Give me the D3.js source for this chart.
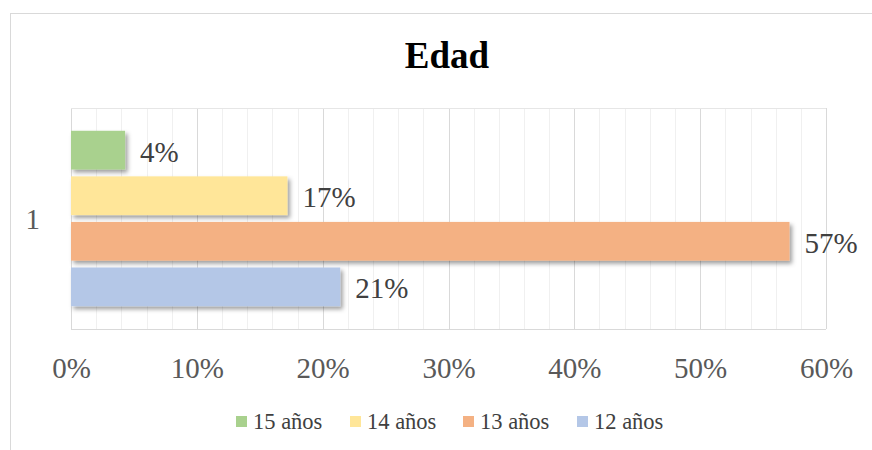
<!DOCTYPE html>
<html>
<head>
<meta charset="utf-8">
<script src="https://cdn.jsdelivr.net/npm/d3@7"></script>
<style>
  body { margin: 0; background: #fff; }
  svg { display: block; }
</style>
</head>
<body>
<div id="chart"></div>
<script>
// --- Data ---
const categories = ["1"];
const seriesNames = ["15 años", "14 años", "13 años", "12 años"];
const seriesValues = [0.043, 0.172, 0.571, 0.214];
const seriesLabels = ["4%", "17%", "57%", "21%"];
const seriesColors = ["#a9d18e", "#ffe699", "#f4b183", "#b4c7e7"];
const xTicks = [0, 0.1, 0.2, 0.3, 0.4, 0.5, 0.6];

const width = 872, height = 450;
const plot = { left: 71, right: 826, top: 108, bottom: 329 };
const FONT = "'Liberation Serif', 'Times New Roman', serif";

const svg = d3.select("#chart").append("svg")
    .attr("width", width)
    .attr("height", height);

// Drop shadow like the office chart style
const defs = svg.append("defs");
defs.append("filter")
    .attr("id", "shadow")
    .attr("x", "-10%").attr("y", "-20%")
    .attr("width", "130%").attr("height", "160%")
  .append("feDropShadow")
    .attr("dx", 2.5).attr("dy", 3)
    .attr("stdDeviation", 2)
    .attr("flood-color", "#000")
    .attr("flood-opacity", 0.38);

// Chart area border
svg.append("rect")
    .attr("x", 10.5).attr("y", 13.5)
    .attr("width", 900).attr("height", 500)
    .attr("fill", "#fff")
    .attr("stroke", "#d9d9d9");

// --- Scales ---
const x = d3.scaleLinear().domain([0, 0.6]).range([plot.left, plot.right]);
const yCat = d3.scaleBand().domain(categories).range([plot.top, plot.bottom]);
const y = d3.scaleBand().domain(seriesNames)
    .range([0, yCat.bandwidth()])
    .paddingInner(0.15)
    .paddingOuter(0.5);

// Minor gridlines (every 2%)
const minor = d3.range(0, 0.6001, 0.02).filter(v => Math.abs(Math.round(v * 10) - v * 10) > 1e-6);
svg.append("g").selectAll("line").data(minor).join("line")
    .attr("x1", d => Math.round(x(d)) + 0.5).attr("x2", d => Math.round(x(d)) + 0.5)
    .attr("y1", plot.top).attr("y2", plot.bottom)
    .attr("stroke", "#f0f0f0");

// Major gridlines
svg.append("g").selectAll("line").data(xTicks).join("line")
    .attr("x1", d => Math.round(x(d)) + 0.5).attr("x2", d => Math.round(x(d)) + 0.5)
    .attr("y1", plot.top).attr("y2", plot.bottom)
    .attr("stroke", "#d9d9d9");

// Plot top/bottom borders
svg.append("line")
    .attr("x1", plot.left).attr("x2", plot.right)
    .attr("y1", plot.top + 0.5).attr("y2", plot.top + 0.5)
    .attr("stroke", "#e6e6e6");
svg.append("line")
    .attr("x1", plot.left).attr("x2", plot.right)
    .attr("y1", plot.bottom + 0.5).attr("y2", plot.bottom + 0.5)
    .attr("stroke", "#d9d9d9");

// --- Bars ---
const barData = seriesNames.map((name, i) => ({
  name, value: seriesValues[i], label: seriesLabels[i], color: seriesColors[i], cat: categories[0]
}));

svg.append("g").selectAll("rect").data(barData).join("rect")
    .attr("x", x(0))
    .attr("y", d => yCat(d.cat) + y(d.name))
    .attr("width", d => x(d.value) - x(0))
    .attr("height", y.bandwidth())
    .attr("fill", d => d.color)
    .attr("filter", "url(#shadow)");

// Data labels
svg.append("g").selectAll("text").data(barData).join("text")
    .attr("x", d => x(d.value) + 15)
    .attr("y", d => yCat(d.cat) + y(d.name) + y.bandwidth() / 2)
    .attr("dy", "0.4em")
    .attr("font-family", FONT)
    .attr("font-size", 29)
    .attr("fill", "#404040")
    .text(d => d.label);

// --- Axes ---
const xAxis = d3.axisBottom(x).tickValues(xTicks).tickSize(0).tickFormat(d3.format(".0%"));
const gx = svg.append("g")
    .attr("transform", `translate(0,${plot.bottom})`)
    .call(xAxis);
gx.select(".domain").remove();
gx.selectAll("text")
    .attr("y", 49)
    .attr("dy", null)
    .attr("font-family", FONT)
    .attr("font-size", 29)
    .attr("fill", "#595959");

const yAxis = d3.axisLeft(yCat).tickSize(0);
const gy = svg.append("g")
    .attr("transform", `translate(${plot.left - 28},0)`)
    .call(yAxis);
gy.select(".domain").remove();
gy.selectAll("text")
    .attr("dy", "0.35em")
    .attr("font-family", FONT)
    .attr("font-size", 29)
    .attr("fill", "#595959");

// --- Title ---
svg.append("text")
    .attr("x", 447).attr("y", 68)
    .attr("text-anchor", "middle")
    .attr("font-family", FONT)
    .attr("font-weight", "bold")
    .attr("font-size", 37)
    .attr("fill", "#000")
    .text("Edad");

// --- Legend ---
const legendX = [236, 350, 463, 577];
const legend = svg.append("g").selectAll("g").data(barData).join("g")
    .attr("transform", (d, i) => `translate(${legendX[i]},429)`);
legend.append("rect")
    .attr("x", 0).attr("y", -13)
    .attr("width", 11).attr("height", 11)
    .attr("fill", d => d.color);
legend.append("text")
    .attr("x", 17).attr("y", 0)
    .attr("font-family", FONT)
    .attr("font-size", 22.5)
    .attr("fill", "#404040")
    .text(d => d.name);
</script>
</body>
</html>
